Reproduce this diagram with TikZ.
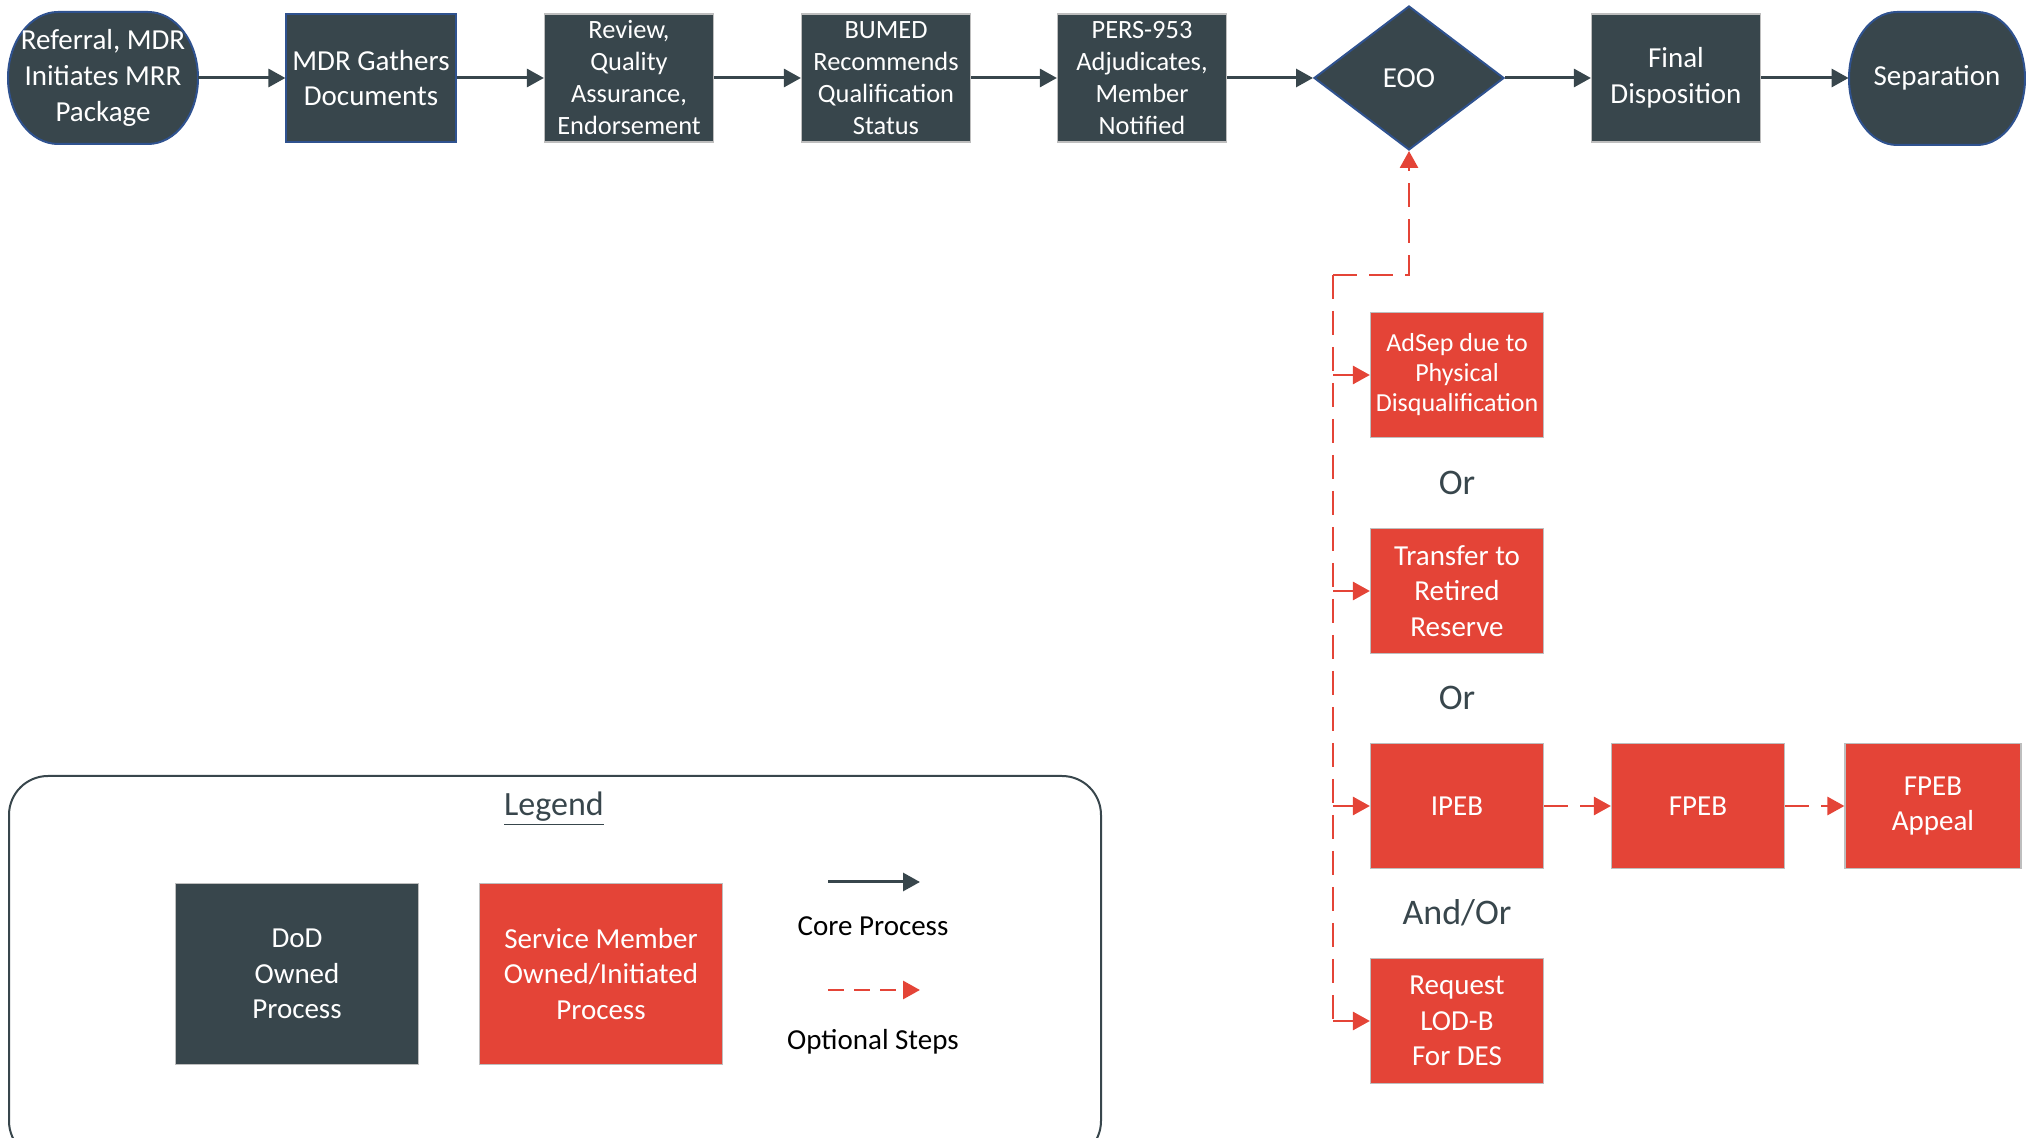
\documentclass[tikz,border=0pt]{standalone}
\usepackage{fontspec}
\setmainfont{Carlito}
\usetikzlibrary{arrows.meta,shapes.geometric}

\definecolor{dodgray}{RGB}{56,70,76}
\definecolor{smred}{RGB}{228,68,55}
\definecolor{edgeblue}{RGB}{47,82,143}
\definecolor{edgegray}{RGB}{190,190,190}

\begin{document}
\begin{tikzpicture}[x=0.5pt, y=-0.5pt,
    big/.style={font=\fontsize{14.5}{17.8}\selectfont},
    small/.style={font=\fontsize{13.2}{16}\selectfont},
    term/.style={rectangle, inner sep=0pt, text=white, align=center, big},
    dodbox/.style={rectangle, fill=dodgray, draw=edgegray, line width=0.6pt, text=white,
      align=center, inner sep=0pt, minimum width=84.5pt, minimum height=64pt},
    smbox/.style={rectangle, fill=smred, draw=edgegray, line width=0.6pt, text=white,
      align=center, inner sep=0pt, minimum width=86.5pt, minimum height=62.5pt, big},
    core/.style={draw=dodgray, line width=1.5pt, -{Triangle[length=8.5pt,width=9pt]}},
    optline/.style={draw=smred, line width=1.4pt, dash pattern=on 12pt off 6pt},
    optarrow/.style={optline, -{Triangle[length=8.5pt,width=9pt]}},
    orlabel/.style={text=dodgray, font=\fontsize{18}{20}\selectfont},
  ]
  \useasboundingbox (0,0) rectangle (2026,1138);

  % terminators
  \filldraw[fill=dodgray, draw=edgeblue, line width=1pt]
    (58,12) -- (148,12) arc[start angle=-90, end angle=90, x radius=50, y radius=66]
    -- (58,144) arc[start angle=90, end angle=270, x radius=50, y radius=66] -- cycle;
  \filldraw[fill=dodgray, draw=edgeblue, line width=1pt]
    (1897,12) -- (1977,12) arc[start angle=-90, end angle=90, x radius=48, y radius=66.5]
    -- (1897,145) arc[start angle=90, end angle=270, x radius=48, y radius=66.5] -- cycle;

  % core process row
  \node[term, minimum width=95pt, minimum height=66pt] (ref) at (103,78) {Referral, MDR\\Initiates MRR\\Package};
  \node[dodbox, draw=edgeblue, minimum width=85pt, big] (mdr) at (371,78) {MDR Gathers\\Documents};
  \node[dodbox, small] (review) at (629,78) {Review,\\Quality\\Assurance,\\Endorsement};
  \node[dodbox, small] (bumed) at (886,78) {BUMED\\Recommends\\Qualification\\Status};
  \node[dodbox, small] (pers) at (1142,78) {PERS-953\\Adjudicates,\\Member\\Notified};
  \node[diamond, fill=dodgray, draw=edgeblue, line width=1pt, inner sep=0pt,
    minimum width=95pt, minimum height=72pt, text=white, big] (eoo) at (1409,78) {EOO};
  \node[dodbox, big] (final) at (1676,78) {Final\\Disposition};
  \node[term, minimum width=88pt, minimum height=66.5pt] (sep) at (1937,78) {Separation};

  \foreach \a/\b in {ref/mdr, mdr/review, review/bumed, bumed/pers, pers/eoo, eoo/final, final/sep}
    \draw[core] (\a) -- (\b);

  % member options
  \node[smbox, font=\fontsize{13}{15}\selectfont] (adsep) at (1457,375) {AdSep due to\\Physical\\Disqualification};
  \node[orlabel] (or1) at (1457,483) {Or};
  \node[smbox] (retire) at (1457,591) {Transfer to\\Retired\\Reserve};
  \node[orlabel] (or2) at (1457,698) {Or};
  \node[smbox] (ipeb) at (1457,806) {IPEB};
  \node[smbox] (fpeb) at (1698,806) {FPEB};
  \node[smbox, minimum width=88pt] (appeal) at (1933,806) {FPEB\\Appeal};
  \node[orlabel] (andor) at (1457,913) {And/Or};
  \node[smbox] (lodb) at (1457,1021) {Request\\LOD-B\\For DES};

  \coordinate (trunk) at (1333,275);
  \coordinate (trunk end) at (1333,1021);
  \draw[optarrow] (trunk) -| (eoo.south);
  \draw[optline] (trunk) -- (trunk end);
  \foreach \b in {adsep, retire, ipeb, lodb}
    \draw[optarrow] (trunk |- \b.west) -- (\b.west);
  \draw[optarrow] (ipeb) -- (fpeb);
  \draw[optarrow] (fpeb) -- (appeal);

  % legend
  \begin{scope}
    \clip (0,0) rectangle (2026,1138);
    \draw[dodgray, line width=1pt, rounded corners=19.5pt] (9,776) rectangle (1101,1160);
  \end{scope}
  \node[text=dodgray, font=\fontsize{17}{20}\selectfont] (legend) at (554,809) {\underline{Legend}};
  \node[dodbox, big, minimum width=121.5pt, minimum height=90.5pt] (key dod) at (297,974) {DoD\\Owned\\Process};
  \node[smbox, minimum width=121.5pt, minimum height=90.5pt] (key sm) at (601,974) {Service Member\\Owned/Initiated\\Process};
  \coordinate (core a) at (828,882);
  \coordinate (core b) at (920,882);
  \draw[core] (core a) -- (core b);
  \node[big] (core text) at (873,926) {Core Process};
  \coordinate (opt a) at (828,990);
  \coordinate (opt b) at (920,990);
  \draw[optarrow, dash pattern=on 8pt off 5pt] (opt a) -- (opt b);
  \node[big] (opt text) at (873,1042) {Optional Steps};
\end{tikzpicture}
\end{document}
